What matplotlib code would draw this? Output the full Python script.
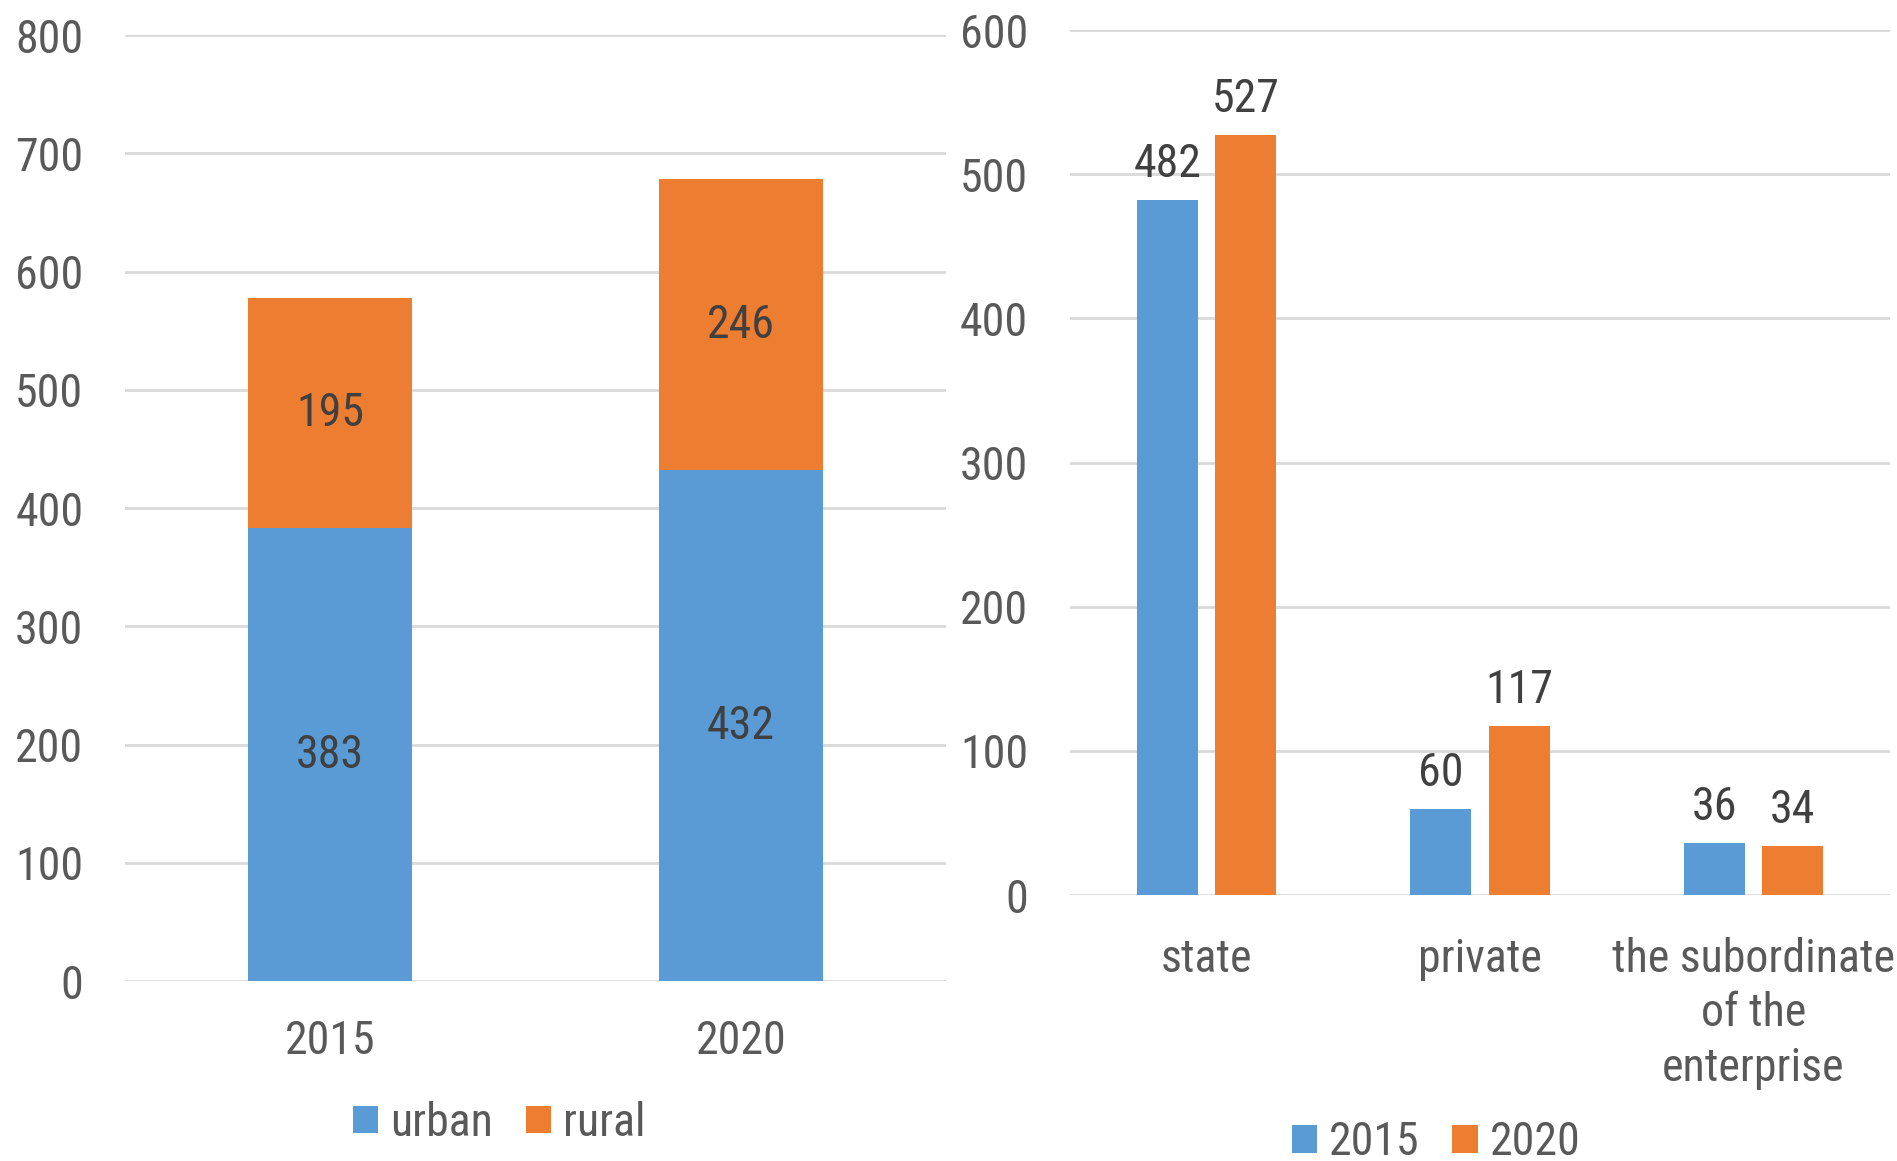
import matplotlib.pyplot as plt
import numpy as np

plt.rcParams['font.family'] = ['Roboto Condensed', 'Liberation Sans', 'DejaVu Sans']

# left chart: urban / rural
years = ['2015', '2020']
urban = [383, 432]
rural = [195, 246]

# right chart: by type of ownership
sectors = ['state', 'private', 'the subordinate\nof the\nenterprise']
vals_2015 = [482, 60, 36]
vals_2020 = [527, 117, 34]

blue = '#5B9BD5'
orange = '#ED7D31'
grid = '#D9D9D9'
tick_col = '#595959'
lab_col = '#404040'
fs = 33

fig = plt.figure(figsize=(18.97, 11.61), dpi=100)
ax1 = fig.add_axes([0.0659, 0.155, 0.4328, 0.8148])
ax2 = fig.add_axes([0.564, 0.2291, 0.4323, 0.745])

for ax in (ax1, ax2):
    for s in ax.spines.values():
        s.set_visible(False)
    ax.yaxis.grid(True, color=grid, linewidth=2)
    ax.set_axisbelow(True)
    ax.tick_params(length=0, labelsize=fs, labelcolor=tick_col)

# stacked bars
x1 = np.arange(len(years))
b1 = ax1.bar(x1, urban, width=0.4, color=blue, label='urban')
b2 = ax1.bar(x1, rural, width=0.4, bottom=urban, color=orange, label='rural')
ax1.bar_label(b1, label_type='center', fontsize=fs, color=lab_col)
ax1.bar_label(b2, label_type='center', fontsize=fs, color=lab_col)
ax1.set_xlim(-0.5, 1.5)
ax1.set_ylim(0, 800)
ax1.set_yticks(range(0, 801, 100))
ax1.set_xticks(x1, years)
ax1.tick_params(axis='y', pad=30)
ax1.tick_params(axis='x', pad=27)
ax1.legend(loc='center', bbox_to_anchor=(0.2630, 0.033), bbox_transform=fig.transFigure,
           ncol=2, frameon=False, fontsize=fs, labelcolor=tick_col,
           handlelength=0.55, handleheight=0.55, handletextpad=0.26,
           columnspacing=0.72, borderpad=0)

# grouped bars
x2 = np.arange(len(sectors))
c1 = ax2.bar(x2 - 0.143, vals_2015, width=0.223, color=blue, label='2015')
c2 = ax2.bar(x2 + 0.143, vals_2020, width=0.223, color=orange, label='2020')
ax2.bar_label(c1, padding=10, fontsize=fs, color=lab_col)
ax2.bar_label(c2, padding=10, fontsize=fs, color=lab_col)
ax2.set_xlim(-0.5, 2.5)
ax2.set_ylim(0, 600)
ax2.set_yticks(range(0, 601, 100))
ax2.set_xticks(x2, sectors, linespacing=1.3)
ax2.tick_params(axis='y', pad=30)
ax2.tick_params(axis='x', pad=30)
ax2.legend(loc='center', bbox_to_anchor=(0.757, 0.016), bbox_transform=fig.transFigure,
           ncol=2, frameon=False, fontsize=fs, labelcolor=tick_col,
           handlelength=0.55, handleheight=0.55, handletextpad=0.26,
           columnspacing=0.72, borderpad=0)

fig.savefig('out.png', dpi=100)
